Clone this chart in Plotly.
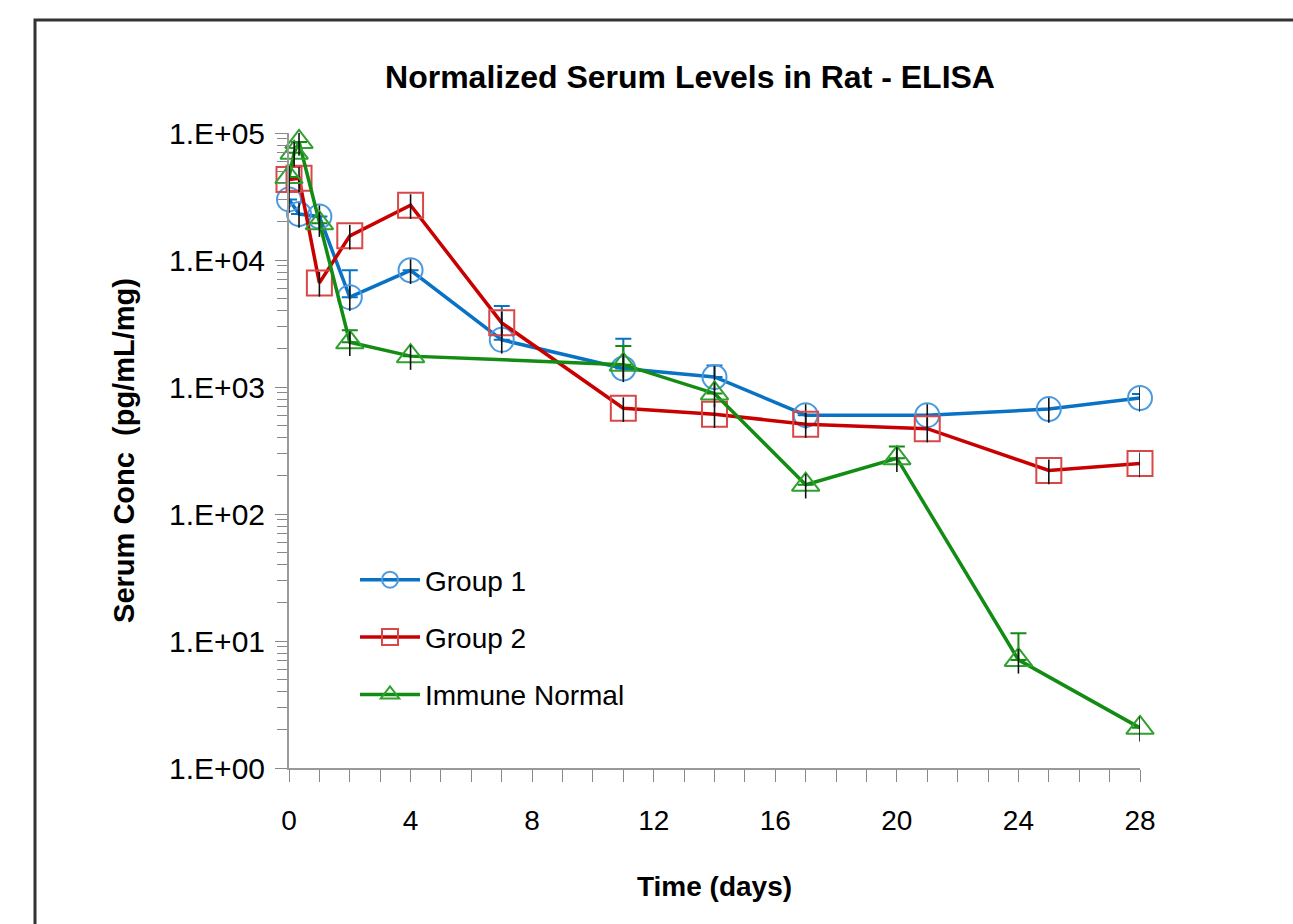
import plotly.graph_objects as go

# ---- data ----
days_g1 = [0, 0.33, 1, 2, 4, 7, 11, 14, 17, 21, 25, 28]
g1 = [30000, 23000, 22000, 5100, 8300, 2350, 1400, 1200, 600, 600, 670, 820]
g1_err = [None, None, None, 3200, None, 2000, 1000, 280, None, None, None, 60]

days_g2 = [0, 0.33, 1, 2, 4, 7, 11, 14, 17, 21, 25, 28]
g2 = [43000, 44000, 6600, 15500, 27000, 3200, 680, 610, 510, 470, 220, 250]

days_in = [0, 0.17, 0.33, 1, 2, 4, 11, 14, 17, 20, 24, 28]
imm = [45000, 70000, 85000, 19500, 2250, 1750, 1500, 890, 170, 275, 7.1, 2.07]
imm_err = [None, None, None, None, 550, None, 600, None, None, 65, 4.4, None]

y_tickvals = [1, 10, 100, 1000, 10000, 100000]
y_ticktext = ["1.E+00", "1.E+01", "1.E+02", "1.E+03", "1.E+04", "1.E+05"]
x_tickvals = [0, 4, 8, 12, 16, 20, 24, 28]

BLUE, BLUE_M = "#0a72c4", "#4a9ae0"
RED, RED_M = "#c80000", "#d84848"
GREEN, GREEN_M = "#128c12", "#30a030"

FONT = "Liberation Sans, Arial, sans-serif"

fig = go.Figure()

series = [
    ("Group 1", days_g1, g1, g1_err, BLUE, BLUE_M, "circle-open", 24),
    ("Group 2", days_g2, g2, None, RED, RED_M, "square-open", 25),
    ("Immune Normal", days_in, imm, imm_err, GREEN, GREEN_M, "triangle-up-open", 24),
]

for name, xs, ys, err, col, mcol, sym, msize in series:
    ed = dict(visible=False)
    if err is not None:
        ed = dict(type="data", symmetric=False, array=err,
                  arrayminus=[None] * len(err), color=col, thickness=2, width=8)
    fig.add_trace(go.Scatter(
        x=xs, y=ys, name=name, mode="lines+markers", legendgroup=name,
        line=dict(color=col, width=3.5), cliponaxis=False,
        marker=dict(symbol=sym, size=msize, color=mcol, line=dict(width=2, color=mcol)),
        error_y=ed,
    ))
    # short black whiskers through each marker
    fig.add_trace(go.Scatter(
        x=xs, y=ys, mode="markers", showlegend=False, legendgroup=name,
        marker=dict(size=1, color="rgba(0,0,0,0)"), cliponaxis=False,
        error_y=dict(type="percent", value=22, color="#111111", thickness=1.6, width=0),
        hoverinfo="skip",
    ))

fig.update_layout(
    width=1293, height=924,
    paper_bgcolor="white", plot_bgcolor="white",
    margin=dict(l=289, r=153, t=133, b=156),
    font=dict(family=FONT, color="black"),
    title=dict(text="<b>Normalized Serum Levels in Rat - ELISA</b>",
               x=690 / 1293, xref="container", xanchor="center",
               y=1 - 77 / 924, yref="container", yanchor="middle",
               font=dict(size=32, family=FONT, color="black")),
    showlegend=True,
    legend=dict(x=(355 - 289) / 851, xanchor="left", y=(768 - 555) / 635, yanchor="top",
                bgcolor="rgba(0,0,0,0)", font=dict(size=28, family=FONT, color="black"),
                itemwidth=60, tracegroupgap=18),
)

fig.update_xaxes(
    range=[0, 28], tickvals=x_tickvals, ticks="outside", ticklen=12, tickwidth=1,
    tickcolor="#888888", showline=True, linecolor="#999999", linewidth=2,
    showgrid=False, zeroline=False, ticklabelstandoff=14,
    tickfont=dict(size=28, family=FONT, color="black"),
    minor=dict(dtick=1, ticks="outside", ticklen=12, tickwidth=1, tickcolor="#888888", showgrid=False),
    title=dict(text="<b>Time (days)</b>", font=dict(size=28, family=FONT, color="black"), standoff=42),
)

fig.update_yaxes(
    type="log", range=[0, 5], tickvals=y_tickvals, ticktext=y_ticktext,
    ticks="outside", ticklen=12, tickwidth=1, tickcolor="#888888",
    showline=True, linecolor="#999999", linewidth=2, showgrid=False, zeroline=False,
    tickfont=dict(size=30, family=FONT, color="black"), ticklabelstandoff=4,
    minor=dict(dtick="D1", ticks="outside", ticklen=10, tickwidth=1, tickcolor="#888888", showgrid=False),
    title=dict(text="<b>Serum Conc  (pg/mL/mg)</b>", font=dict(size=29, family=FONT, color="black"), standoff=26),
)

# outer frame of the original figure
fig.add_shape(type="rect", xref="paper", yref="paper",
              x0=(35 - 289) / 851, x1=(1300 - 289) / 851,
              y0=(768 - 940) / 635, y1=(768 - 20) / 635,
              line=dict(color="#333333", width=3), fillcolor="rgba(0,0,0,0)", layer="below")

fig.write_html("out.html")
